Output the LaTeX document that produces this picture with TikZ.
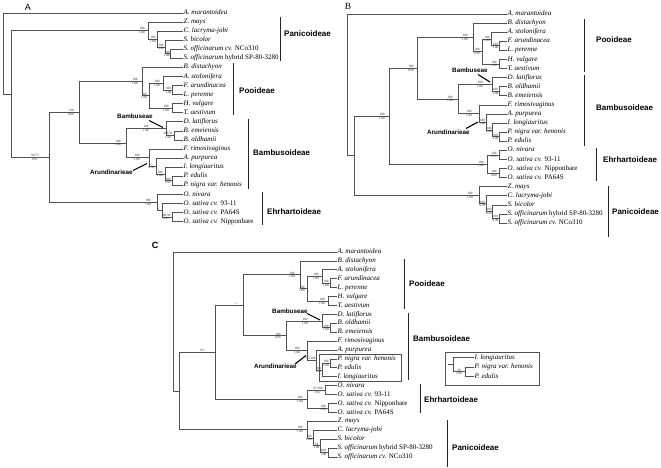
\documentclass[tikz,border=0pt]{standalone}
\usepackage{fontspec}
\setmainfont{Liberation Serif}
\newfontfamily\sansfam{Liberation Sans}
\newcommand\leaffont{\fontsize{7}{8}\selectfont}
\newcommand\bsfont{\fontsize{3.3}{3.6}\selectfont}
\newcommand\cladefont{\sansfam\bfseries\fontsize{8}{9}\selectfont}
\newcommand\tribefont{\sansfam\bfseries\fontsize{6.3}{7}\selectfont}
\colorlet{linecol}{black!68}
\tikzset{
 br/.style={draw=linecol, line width=0.75pt},
 leaf/.style={anchor=west, inner sep=0.5pt, font=\leaffont, text height=4.7pt, text depth=1.5pt},
 bs/.style={font=\bsfont, inner sep=0pt, text=black!85},
 clade/.style={anchor=west, font=\cladefont, inner sep=0pt},
 tribe/.style={anchor=west, font=\tribefont, inner sep=0pt},
 cbar/.style={draw=black!85, line width=1pt},
 leader/.style={draw=black, line width=1.1pt},
 plab/.style={inner sep=0pt},
 boxln/.style={draw=linecol, line width=0.6pt},
}
\newcommand\lfn[4]{\node[leaf] (#1) at (#2,#3) {#4};}
\newcommand\edl[2]{\draw[br] (#1) |- (#2.west);}
\newcommand\edn[2]{\draw[br] (#1) |- (#2);}
\newcommand\nlab[5]{\node[bs,anchor=south] (#1t) at (#2,#3-0.5) {#4};\node[bs,anchor=north] (#1b) at (#2,#3+0.6) {#5};}
\begin{document}
\begin{tikzpicture}[x=1pt,y=-1pt]
\path[use as bounding box] (0,0) rectangle (661,468);
% ================= PANEL A =================
\node[plab, font=\sansfam\fontsize{9}{10}\selectfont] (labA) at (28,7) {A};
\lfn{aL0}{183}{13}{\textit{A. marantoidea}}
\lfn{aL1}{183}{22.1}{\textit{Z. mays}}
\lfn{aL2}{183}{31.1}{\textit{C. lacryma-jobi}}
\lfn{aL3}{183}{40.2}{\textit{S. bicolor}}
\lfn{aL4}{183}{49.3}{\textit{S. officinarum cv.} NCo310}
\lfn{aL5}{183}{58.4}{\textit{S. officinarum} hybrid SP-80-3280}
\lfn{aL6}{183}{67.4}{\textit{B. distachyon}}
\lfn{aL7}{183}{76.5}{\textit{A. stolonifera}}
\lfn{aL8}{183}{85.6}{\textit{F. arundinacea}}
\lfn{aL9}{183}{94.6}{\textit{L. perenne}}
\lfn{aL10}{183}{103.7}{\textit{H. vulgare}}
\lfn{aL11}{183}{112.8}{\textit{T. aestivum}}
\lfn{aL12}{183}{121.8}{\textit{D. latiflorus}}
\lfn{aL13}{183}{130.9}{\textit{B. emeiensis}}
\lfn{aL14}{183}{140}{\textit{B. oldhamii}}
\lfn{aL15}{183}{149}{\textit{F. rimosivaginus}}
\lfn{aL16}{183}{158.1}{\textit{A. purpurea}}
\lfn{aL17}{183}{167.2}{\textit{I. longiauritus}}
\lfn{aL18}{183}{176.3}{\textit{P. edulis}}
\lfn{aL19}{183}{185.3}{\textit{P. nigra var. henonis}}
\lfn{aL20}{183}{194.4}{\textit{O. nivara}}
\lfn{aL21}{183}{203.5}{\textit{O. sativa cv.} 93-11}
\lfn{aL22}{183}{212.5}{\textit{O. sativa cv.} PA64S}
\lfn{aL23}{183}{221.6}{\textit{O. sativa cv.} Nipponbare}
\coordinate (aRoot) at (3,53.5);
\coordinate (aN1) at (11,94);
\coordinate (aP1) at (148,30.6);
\coordinate (aP2) at (157,39.05);
\coordinate (aP3) at (165,47);
\coordinate (aP4) at (170,53.85);
\coordinate (aN96) at (49,157.3);
\coordinate (aBP) at (79,112.3);
\coordinate (aPo1) at (142,81.6);
\coordinate (aPo2) at (149,95.8);
\coordinate (aPo3) at (163,83.3);
\coordinate (aPo5) at (172,90.1);
\coordinate (aPo4) at (172,108.25);
\coordinate (aBa1) at (126,143);
\coordinate (aBb) at (166,128.6);
\coordinate (aBb2) at (174,135.45);
\coordinate (aAr) at (149,157.5);
\coordinate (aAr2) at (156,166);
\coordinate (aAr3) at (165,174);
\coordinate (aAr4) at (172,180.8);
\coordinate (aEh) at (157,202.3);
\coordinate (aEh2) at (162,210.3);
\coordinate (aEh3) at (172,217);
\edl{aRoot}{aL0}\edn{aRoot}{aN1}
\edn{aN1}{aP1}\edn{aN1}{aN96}
\edl{aP1}{aL1}\edn{aP1}{aP2}
\edl{aP2}{aL2}\edn{aP2}{aP3}
\edl{aP3}{aL3}\edn{aP3}{aP4}
\edl{aP4}{aL4}\edl{aP4}{aL5}
\edn{aN96}{aBP}\edn{aN96}{aEh}
\edn{aBP}{aPo1}\edn{aBP}{aBa1}
\edl{aPo1}{aL6}\edn{aPo1}{aPo2}
\edn{aPo2}{aPo3}\edn{aPo2}{aPo4}
\edl{aPo3}{aL7}\edn{aPo3}{aPo5}
\edl{aPo5}{aL8}\edl{aPo5}{aL9}
\edl{aPo4}{aL10}\edl{aPo4}{aL11}
\edn{aBa1}{aBb}\edn{aBa1}{aAr}
\edl{aBb}{aL12}\edn{aBb}{aBb2}
\edl{aBb2}{aL13}\edl{aBb2}{aL14}
\edl{aAr}{aL15}\edn{aAr}{aAr2}
\edl{aAr2}{aL16}\edn{aAr2}{aAr3}
\edl{aAr3}{aL17}\edn{aAr3}{aAr4}
\edl{aAr4}{aL18}\edl{aAr4}{aL19}
\edl{aEh}{aL20}\edn{aEh}{aEh2}
\edl{aEh2}{aL21}\edn{aEh2}{aEh3}
\edl{aEh3}{aL22}\edl{aEh3}{aL23}
\nlab{aP1}{142}{30.6}{100}{1.00}
\nlab{aP2}{153}{39.05}{100}{1.00}
\nlab{aP3}{161}{47}{100}{0.99}
\nlab{aP4}{167}{53.85}{100}{1.00}
\nlab{aBP}{71}{112.3}{-/98}{0.98}
\nlab{aN96}{35}{157.3}{96/75}{0.97}
\nlab{aPo1}{135}{81.6}{100}{1.00}
\nlab{aPo2}{144}{95.8}{100}{1.00}
\nlab{aPo3}{157}{83.3}{100}{1.00}
\nlab{aPo5}{168.5}{90.1}{100}{1.00}
\nlab{aPo4}{166}{108.25}{100}{1.00}
\nlab{aBa1}{118}{143}{100}{1.00}
\nlab{aBb}{146}{128.6}{100}{1.00}
\nlab{aBb2}{168}{135.45}{100/95}{1.00}
\nlab{aAr}{137}{157.5}{100}{1.00}
\nlab{aAr2}{151.5}{166}{-/-}{0.99}
\nlab{aAr3}{160}{174}{100}{1.00}
\nlab{aAr4}{168}{180.8}{100}{0.99}
\nlab{aEh}{148}{202.3}{100}{1.00}
\nlab{aEh2}{159}{210.3}{-/-}{}
\nlab{aEh3}{166}{217}{100/99}{0.99}
\coordinate (aBarPa1) at (280,17); \coordinate (aBarPa2) at (280,61);
\coordinate (aBarPo1) at (233,63); \coordinate (aBarPo2) at (233,115);
\coordinate (aBarBa1) at (248,119); \coordinate (aBarBa2) at (248,189);
\coordinate (aBarEh1) at (262,192); \coordinate (aBarEh2) at (262,225);
\draw[cbar] (aBarPa1) -- (aBarPa2);
\draw[cbar] (aBarPo1) -- (aBarPo2);
\draw[cbar] (aBarBa1) -- (aBarBa2);
\draw[cbar] (aBarEh1) -- (aBarEh2);
\node[clade] (aTPa) at (284,34) {Panicoideae};
\node[clade] (aTPo) at (239,91) {Pooideae};
\node[clade] (aTBa) at (253,153) {Bambusoideae};
\node[clade] (aTEh) at (267,212) {Ehrhartoideae};
\node[tribe] (aTBb) at (117,116.5) {Bambuseae};
\node[tribe] (aTAr) at (90,172) {Arundinarieae};
\coordinate (aLdB1) at (149,120.5); \coordinate (aLdB2) at (163,127.5);
\coordinate (aLdA1) at (133,170.5); \coordinate (aLdA2) at (147,163.5);
\draw[leader] (aLdB1) -- (aLdB2);
\draw[leader] (aLdA1) -- (aLdA2);
% ================= PANEL B =================
\node[plab, font=\fontsize{9.5}{10}\selectfont] (labB) at (348,6) {B};
\lfn{bL0}{507}{14}{\textit{A. marantoidea}}
\lfn{bL1}{507}{23.1}{\textit{B. distachyon}}
\lfn{bL2}{507}{32.2}{\textit{A. stolonifera}}
\lfn{bL3}{507}{41.3}{\textit{F. arundinacea}}
\lfn{bL4}{507}{50.4}{\textit{L. perenne}}
\lfn{bL5}{507}{59.5}{\textit{H. vulgare}}
\lfn{bL6}{507}{68.5}{\textit{T. aestivum}}
\lfn{bL7}{507}{77.6}{\textit{D. latiflorus}}
\lfn{bL8}{507}{86.7}{\textit{B. oldhamii}}
\lfn{bL9}{507}{95.8}{\textit{B. emeiensis}}
\lfn{bL10}{507}{104.9}{\textit{F. rimosivaginus}}
\lfn{bL11}{507}{114}{\textit{A. purpurea}}
\lfn{bL12}{507}{123.1}{\textit{I. longiauritus}}
\lfn{bL13}{507}{132.2}{\textit{P. nigra var. henonis}}
\lfn{bL14}{507}{141.3}{\textit{P. edulis}}
\lfn{bL15}{507}{150.4}{\textit{O. nivara}}
\lfn{bL16}{507}{159.5}{\textit{O. sativa cv.} 93-11}
\lfn{bL17}{507}{168.5}{\textit{O. sativa cv.} Nipponbare}
\lfn{bL18}{507}{177.6}{\textit{O. sativa cv.} PA64S}
\lfn{bL19}{507}{186.7}{\textit{Z. mays}}
\lfn{bL20}{507}{195.8}{\textit{C. lacryma-jobi}}
\lfn{bL21}{507}{204.9}{\textit{S. bicolor}}
\lfn{bL22}{507}{214}{\textit{S. officinarum} hybrid SP-80-3280}
\lfn{bL23}{507}{223.1}{\textit{S. officinarum cv.} NCo310}
\coordinate (bRoot) at (347,84.8);
\coordinate (bR2) at (354,155.6);
\coordinate (bR3) at (389,116.05);
\coordinate (bR4) at (417,68.1);
\coordinate (bPo1) at (473,37.3);
\coordinate (bPo2) at (482,51.5);
\coordinate (bPo3) at (491,39);
\coordinate (bPo5) at (499,45.85);
\coordinate (bPo4) at (499,64);
\coordinate (bBa1) at (458,98.9);
\coordinate (bBb) at (492,84.4);
\coordinate (bBb2) at (499,91.25);
\coordinate (bAr) at (479,113.4);
\coordinate (bAr2) at (486,121.95);
\coordinate (bAr3) at (492,129.9);
\coordinate (bAr4) at (499,136.75);
\coordinate (bEh1) at (487,164);
\coordinate (bEh2) at (499,154.95);
\coordinate (bEh3) at (499,173.05);
\coordinate (bPa1) at (479,195.2);
\coordinate (bPa2) at (486,203.75);
\coordinate (bPa3) at (492,211.7);
\coordinate (bPa4) at (499,218.55);
\edl{bRoot}{bL0}\edn{bRoot}{bR2}
\edn{bR2}{bR3}\edn{bR2}{bPa1}
\edn{bR3}{bR4}\edn{bR3}{bEh1}
\edn{bR4}{bPo1}\edn{bR4}{bBa1}
\edl{bPo1}{bL1}\edn{bPo1}{bPo2}
\edn{bPo2}{bPo3}\edn{bPo2}{bPo4}
\edl{bPo3}{bL2}\edn{bPo3}{bPo5}
\edl{bPo5}{bL3}\edl{bPo5}{bL4}
\edl{bPo4}{bL5}\edl{bPo4}{bL6}
\edn{bBa1}{bBb}\edn{bBa1}{bAr}
\edl{bBb}{bL7}\edn{bBb}{bBb2}
\edl{bBb2}{bL8}\edl{bBb2}{bL9}
\edl{bAr}{bL10}\edn{bAr}{bAr2}
\edl{bAr2}{bL11}\edn{bAr2}{bAr3}
\edl{bAr3}{bL12}\edn{bAr3}{bAr4}
\edl{bAr4}{bL13}\edl{bAr4}{bL14}
\edn{bEh1}{bEh2}\edn{bEh1}{bEh3}
\edl{bEh2}{bL15}\edl{bEh2}{bL16}
\edl{bEh3}{bL17}\edl{bEh3}{bL18}
\edl{bPa1}{bL19}\edn{bPa1}{bPa2}
\edl{bPa2}{bL20}\edn{bPa2}{bPa3}
\edl{bPa3}{bL21}\edn{bPa3}{bPa4}
\edl{bPa4}{bL22}\edl{bPa4}{bL23}
\nlab{bR3}{382}{116.05}{100}{1.00}
\nlab{bR4}{411}{68.1}{100}{0.99}
\nlab{bPo1}{465}{37.3}{100}{1.00}
\nlab{bPo2}{477}{51.5}{100}{0.99}
\nlab{bPo3}{487}{39}{100}{1.00}
\nlab{bPo5}{495.5}{45.85}{100}{1.00}
\nlab{bPo4}{494}{64}{100}{1.00}
\nlab{bBa1}{450}{98.9}{100}{1.00}
\nlab{bBb}{480}{84.4}{100}{1.00}
\nlab{bBb2}{495.5}{91.25}{100}{1.00}
\nlab{bAr}{469}{113.4}{100}{1.00}
\nlab{bAr2}{482.5}{121.95}{100}{1.00}
\nlab{bAr3}{489}{129.9}{100}{1.00}
\nlab{bAr4}{495.5}{136.75}{100}{1.00}
\nlab{bEh1}{481}{164}{100}{1.00}
\nlab{bEh2}{494}{154.95}{100}{0.99}
\nlab{bEh3}{494}{173.05}{100}{0.99}
\nlab{bPa1}{470}{195.2}{100}{1.00}
\nlab{bPa2}{482.5}{203.75}{100}{0.99}
\nlab{bPa3}{489}{211.7}{100}{0.99}
\nlab{bPa4}{495.5}{218.55}{100}{0.99}
\coordinate (bBarPo1) at (584,19); \coordinate (bBarPo2) at (584,72);
\coordinate (bBarBa1) at (584,75); \coordinate (bBarBa2) at (584,146);
\coordinate (bBarEh1) at (596,148); \coordinate (bBarEh2) at (596,181);
\coordinate (bBarPa1) at (608,186); \coordinate (bBarPa2) at (608,237);
\draw[cbar] (bBarPo1) -- (bBarPo2);
\draw[cbar] (bBarBa1) -- (bBarBa2);
\draw[cbar] (bBarEh1) -- (bBarEh2);
\draw[cbar] (bBarPa1) -- (bBarPa2);
\node[clade] (bTPo) at (596,40) {Pooideae};
\node[clade] (bTBa) at (596,108) {Bambusoideae};
\node[clade] (bTEh) at (603,160) {Ehrhartoideae};
\node[clade] (bTPa) at (612,212) {Panicoideae};
\node[tribe] (bTBb) at (452,70) {Bambuseae};
\node[tribe] (bTAr) at (427,132.5) {Arundinarieae};
\coordinate (bLdB1) at (478,74.5); \coordinate (bLdB2) at (490,82);
\coordinate (bLdA1) at (466,128.5); \coordinate (bLdA2) at (478,122);
\draw[leader] (bLdB1) -- (bLdB2);
\draw[leader] (bLdA1) -- (bLdA2);
% ================= PANEL C =================
\node[plab, font=\sansfam\bfseries\fontsize{9}{10}\selectfont] (labC) at (155,245) {C};
\lfn{cL0}{337}{252}{\textit{A. marantoidea}}
\lfn{cL1}{337}{260.9}{\textit{B. distachyon}}
\lfn{cL2}{337}{269.8}{\textit{A. stolonifera}}
\lfn{cL3}{337}{278.7}{\textit{F. arundinacea}}
\lfn{cL4}{337}{287.6}{\textit{L. perenne}}
\lfn{cL5}{337}{296.6}{\textit{H. vulgare}}
\lfn{cL6}{337}{305.5}{\textit{T. aestivum}}
\lfn{cL7}{337}{314.4}{\textit{D. latiflorus}}
\lfn{cL8}{337}{323.3}{\textit{B. oldhamii}}
\lfn{cL9}{337}{332.2}{\textit{B. emeiensis}}
\lfn{cL10}{337}{341.1}{\textit{F. rimosivaginus}}
\lfn{cL11}{337}{350}{\textit{A. purpurea}}
\lfn{cL12}{337}{358.9}{\textit{P. nigra var. henonis}}
\lfn{cL13}{337}{367.8}{\textit{P. edulis}}
\lfn{cL14}{337}{376.7}{\textit{I. longiauritus}}
\lfn{cL15}{337}{385.7}{\textit{O. nivara}}
\lfn{cL16}{337}{394.6}{\textit{O. sativa cv.} 93-11}
\lfn{cL17}{337}{403.5}{\textit{O. sativa cv.} Nipponbare}
\lfn{cL18}{337}{412.4}{\textit{O. sativa cv.} PA64S}
\lfn{cL19}{337}{421.3}{\textit{Z. mays}}
\lfn{cL20}{337}{430.2}{\textit{C. lacryma-jobi}}
\lfn{cL21}{337}{439.1}{\textit{S. bicolor}}
\lfn{cL22}{337}{448}{\textit{S. officinarum} hybrid SP-80-3280}
\lfn{cL23}{337}{456.9}{\textit{S. officinarum cv.} NCo310}
\coordinate (cRoot) at (173,321.45);
\coordinate (cR2) at (179,390.9);
\coordinate (cR3) at (215,352.2);
\coordinate (cR4) at (243,305.3);
\coordinate (cPo1) at (300,274.85);
\coordinate (cPo2) at (307,288.8);
\coordinate (cPo3) at (322,276.5);
\coordinate (cPo5) at (330,283.15);
\coordinate (cPo4) at (328,301.05);
\coordinate (cBa1) at (286,335.8);
\coordinate (cBb) at (322,321.1);
\coordinate (cBb2) at (330,327.75);
\coordinate (cAr) at (307,350.55);
\coordinate (cAr2) at (316,360);
\coordinate (cAr3) at (322,370);
\coordinate (cAr4) at (330,363.35);
\coordinate (cEh1) at (307,399.05);
\coordinate (cEh2) at (325,390.15);
\coordinate (cEh3) at (328,407.95);
\coordinate (cPa1) at (307,429.65);
\coordinate (cPa2) at (313,438);
\coordinate (cPa3) at (320,445.8);
\coordinate (cPa4) at (328,452.45);
\edl{cRoot}{cL0}\edn{cRoot}{cR2}
\edn{cR2}{cR3}\edn{cR2}{cPa1}
\edn{cR3}{cR4}\edn{cR3}{cEh1}
\edn{cR4}{cPo1}\edn{cR4}{cBa1}
\edl{cPo1}{cL1}\edn{cPo1}{cPo2}
\edn{cPo2}{cPo3}\edn{cPo2}{cPo4}
\edl{cPo3}{cL2}\edn{cPo3}{cPo5}
\edl{cPo5}{cL3}\edl{cPo5}{cL4}
\edl{cPo4}{cL5}\edl{cPo4}{cL6}
\edn{cBa1}{cBb}\edn{cBa1}{cAr}
\edl{cBb}{cL7}\edn{cBb}{cBb2}
\edl{cBb2}{cL8}\edl{cBb2}{cL9}
\edl{cAr}{cL10}\edn{cAr}{cAr2}
\edl{cAr2}{cL11}\edn{cAr2}{cAr3}
\edn{cAr3}{cAr4}\edl{cAr3}{cL14}
\edl{cAr4}{cL12}\edl{cAr4}{cL13}
\edn{cEh1}{cEh2}\edn{cEh1}{cEh3}
\edl{cEh2}{cL15}\edl{cEh2}{cL16}
\edl{cEh3}{cL17}\edl{cEh3}{cL18}
\edl{cPa1}{cL19}\edn{cPa1}{cPa2}
\edl{cPa2}{cL20}\edn{cPa2}{cPa3}
\edl{cPa3}{cL21}\edn{cPa3}{cPa4}
\edl{cPa4}{cL22}\edl{cPa4}{cL23}
\nlab{cR4}{236}{305.3}{-/-}{-}
\nlab{cR3}{203}{352.2}{97/-}{-}
\nlab{cPo1}{292}{274.85}{100}{1.00}
\nlab{cPo2}{302}{288.8}{100}{1.00}
\nlab{cPo3}{316}{276.5}{100}{1.00}
\nlab{cPo5}{326}{283.15}{100}{1.00}
\nlab{cPo4}{322}{301.05}{100}{1.00}
\nlab{cBa1}{278}{335.8}{100}{0.99}
\nlab{cBb}{305}{321.1}{100}{1.00}
\nlab{cBb2}{326}{327.75}{100}{1.00}
\nlab{cAr}{297}{350.55}{100}{1.00}
\nlab{cAr2}{311}{360}{97/100}{}
\nlab{cAr3}{318.5}{370}{100}{1.00}
\nlab{cAr4}{326}{363.35}{100}{1.00}
\nlab{cEh1}{300}{399.05}{100}{1.00}
\nlab{cEh2}{318}{390.15}{97/100}{0.97}
\nlab{cEh3}{323}{407.95}{100}{1.00}
\nlab{cPa1}{300}{429.65}{100}{1.00}
\nlab{cPa2}{309}{438}{100}{1.00}
\nlab{cPa3}{316.5}{445.8}{94}{1.00}
\nlab{cPa4}{323.5}{452.45}{100}{1.00}
\coordinate (cBoxA) at (319.5,354); \coordinate (cBoxB) at (401,381.5);
\draw[boxln] (cBoxA) rectangle (cBoxB);
\coordinate (cBarPo1) at (404,259); \coordinate (cBarPo2) at (404,309);
\coordinate (cBarBa1) at (408,313); \coordinate (cBarBa2) at (408,380);
\coordinate (cBarEh1) at (420,384); \coordinate (cBarEh2) at (420,413);
\coordinate (cBarPa1) at (447,420); \coordinate (cBarPa2) at (447,467);
\draw[cbar] (cBarPo1) -- (cBarPo2);
\draw[cbar] (cBarBa1) -- (cBarBa2);
\draw[cbar] (cBarEh1) -- (cBarEh2);
\draw[cbar] (cBarPa1) -- (cBarPa2);
\node[clade] (cTPo) at (409,284) {Pooideae};
\node[clade] (cTBa) at (413,339) {Bambusoideae};
\node[clade] (cTEh) at (424,400) {Ehrhartoideae};
\node[clade] (cTPa) at (452,448) {Panicoideae};
\node[tribe] (cTBb) at (272,311) {Bambuseae};
\node[tribe] (cTAr) at (254,366) {Arundinarieae};
\coordinate (cLdB1) at (307,313.5); \coordinate (cLdB2) at (320,320);
\coordinate (cLdA1) at (295,364); \coordinate (cLdA2) at (306,355.5);
\draw[leader] (cLdB1) -- (cLdB2);
\draw[leader] (cLdA1) -- (cLdA2);
% ---- inset ----
\coordinate (iBoxA) at (445,352); \coordinate (iBoxB) at (539,385);
\draw[boxln] (iBoxA) rectangle (iBoxB);
\lfn{iL0}{474}{357.5}{\textit{I. longiauritus}}
\lfn{iL1}{474}{367}{\textit{P. nigra var. henonis}}
\lfn{iL2}{474}{376.5}{\textit{P. edulis}}
\coordinate (iStub) at (448,364.6);
\coordinate (iR) at (453,364.6);
\coordinate (iN) at (465,371.75);
\draw[br] (iStub) -- (iR);
\edl{iR}{iL0}\edn{iR}{iN}
\edl{iN}{iL1}\edl{iN}{iL2}
\nlab{iN}{459}{371.75}{99}{1.00}
\end{tikzpicture}
\end{document}
